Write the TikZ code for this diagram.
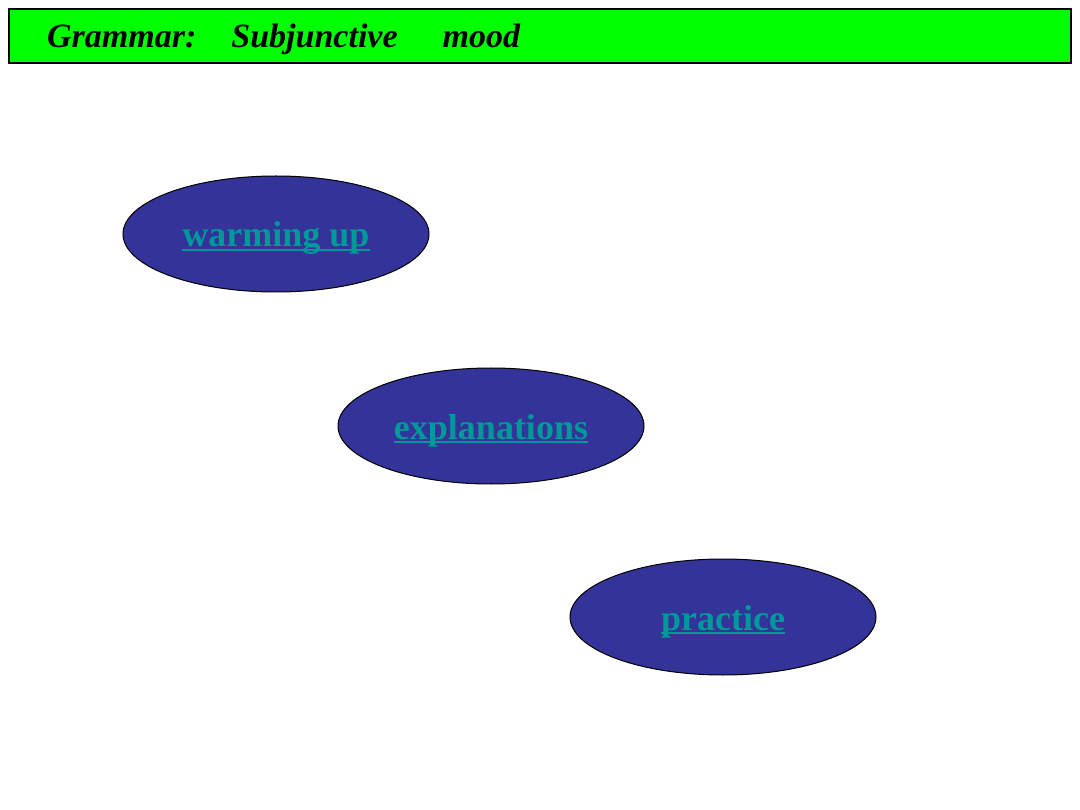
\documentclass[tikz,border=0pt]{standalone}
\usepackage{fontspec}
\setmainfont{Liberation Serif}
\usetikzlibrary{shapes.geometric}
\definecolor{titlegreen}{RGB}{0,255,0}
\definecolor{ovalblue}{RGB}{51,51,153}
\definecolor{linkteal}{RGB}{0,153,153}
\newcommand\myul[1]{\setbox0\hbox{#1}\rlap{\rule[-0.11em]{\wd0}{0.06em}}\box0}
\tikzset{
  oval/.style={ellipse, draw=black, line width=1pt, fill=ovalblue,
    minimum width=306pt, minimum height=116pt, inner sep=0pt,
    text height=26pt, text depth=0pt,
    text=linkteal, font=\fontsize{36}{40}\selectfont\bfseries},
  titlebox/.style={draw=black, line width=1.5pt, fill=titlegreen}
}
\begin{document}
\begin{tikzpicture}[x=1pt,y=-1pt]
\useasboundingbox (0,0) rectangle (1080,810);
\fill[white] (0,0) rectangle (1080,810);
\draw[titlebox] (9,9) rectangle (1071,63);
\node[anchor=base west, inner sep=0pt, font=\fontsize{34}{38}\selectfont\bfseries\itshape] (title) at (47,48) {Grammar:\hspace{35pt}Subjunctive\hspace{45pt}mood};
\node[oval] (warm) at (276,234) {\myul{warming up}};
\node[oval] (expl) at (491,426) {\myul{explanations}};
\node[oval] (prac) at (723,617) {\myul{practice}};
\end{tikzpicture}
\end{document}
